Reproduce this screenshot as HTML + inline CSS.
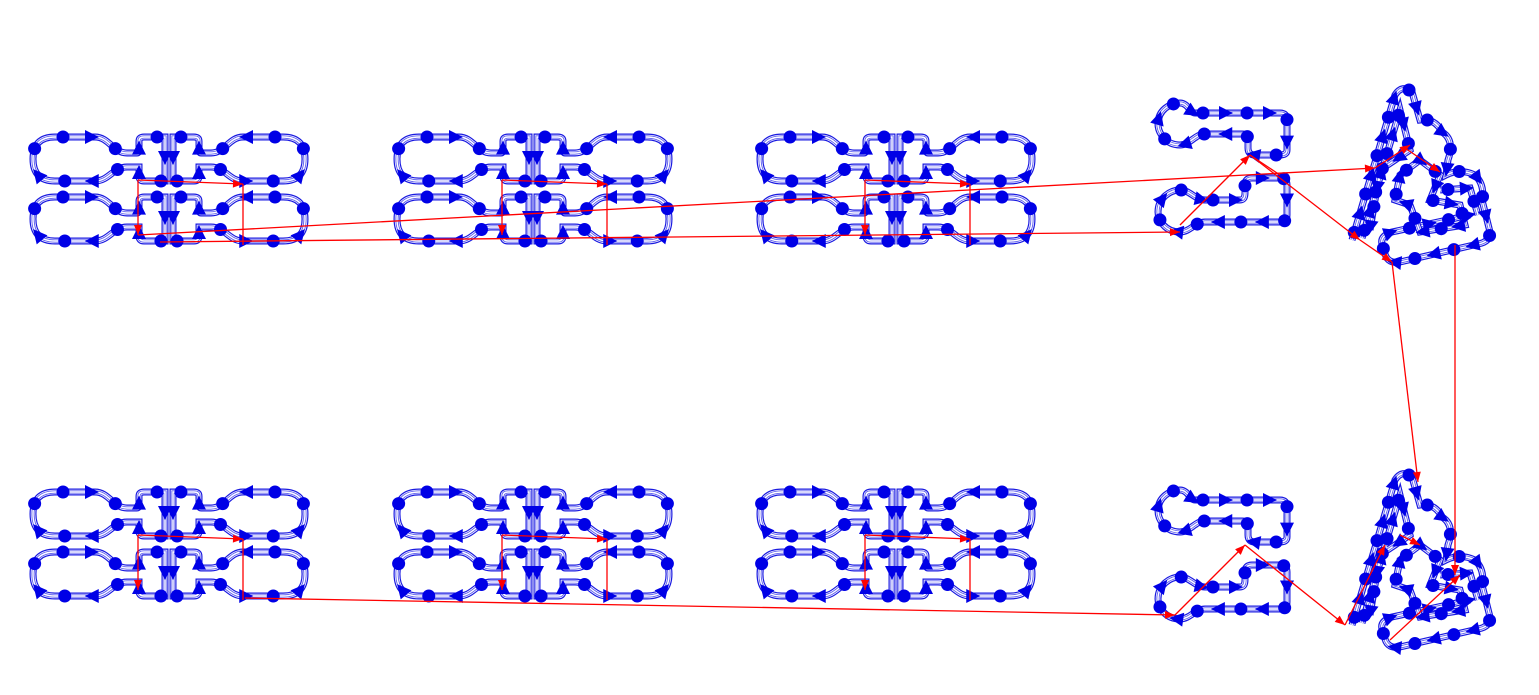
<!DOCTYPE html>
<html><head><meta charset="utf-8"><style>
html,body{margin:0;padding:0;background:#fff;width:1539px;height:695px;overflow:hidden}
svg{display:block}
</style></head><body>
<svg id="s" width="1539" height="695" viewBox="0 0 1539 695" xmlns="http://www.w3.org/2000/svg">
<g id="blue" fill="none"></g>
<g id="marks" fill="#0000e6"></g>
<g id="red" stroke="#f00" stroke-width="1.3" fill="#f00"></g>
</svg>
<script>
var NS="http://www.w3.org/2000/svg";
var blue=document.getElementById('blue'),marks=document.getElementById('marks'),red=document.getElementById('red');
function tri(d,paths){paths.forEach(function(p){
 [[7,'#1a1ae0'],[4.6,'#fff'],[3.2,'#6060f0'],[1.4,'#fff']].forEach(function(s){
  var e=document.createElementNS(NS,'path');e.setAttribute('d',p.d);if(p.t)e.setAttribute('transform',p.t);
  e.setAttribute('stroke',s[1]);e.setAttribute('stroke-width',s[0]);blue.appendChild(e);});
 var e=document.createElementNS(NS,'path');e.setAttribute('d',p.d);
 e.setAttribute('fill','none');blue.appendChild(e);
 var L=e.getTotalLength(),step=p.step||28,i=0;
 for(var l=8;l<L;l+=step,i++){
  var pt=e.getPointAtLength(l),pt2=e.getPointAtLength(Math.min(L,l+2));
  var x=pt.x,y=pt.y,x2=pt2.x,y2=pt2.y;
  if(p.tf){var r=p.tf(x,y);x=r[0];y=r[1];r=p.tf(x2,y2);x2=r[0];y2=r[1];}
  if(i%2==0){var c=document.createElementNS(NS,'circle');c.setAttribute('cx',x);c.setAttribute('cy',y);c.setAttribute('r',6.5);marks.appendChild(c);}
  else{var a=Math.atan2(y2-y,x2-x)*180/Math.PI;var g=document.createElementNS(NS,'polygon');
   g.setAttribute('points','8,0 -6,-7 -6,7');g.setAttribute('transform','translate('+x+','+y+') rotate('+a+')');marks.appendChild(g);}
 }
});}
var lobe="M22 2 H62 C76 2 80 18 94 18 H104 Q106 18 106 13 V6 Q106 2 111 2 H132 V46 H111 Q106 46 106 41 V32 H94 C80 32 76 46 62 46 H22 Q0 46 0 24 Q0 2 22 2 Z";
function block(x0,y0){
 [0,60].forEach(function(dy){
  var ox=x0,oy=y0+dy;
  tri(null,[{d:lobe,t:'translate('+ox+','+oy+')',tf:function(x,y){return[x+ox,y+oy]}},
   {d:lobe,t:'translate('+(ox+272)+','+oy+') scale(-1,1)',tf:function(x,y){return[ox+272-x,y+oy]}}]);
 });
}
[[33,135],[397,135],[760,135],[33,490],[397,490],[760,490]].forEach(function(b){block(b[0],b[1]);});
function sh(dy){return {t:'translate(0,'+dy+')',tf:function(x,y){return[x,y+dy]}};}
function mk(d,dy,step){var s=sh(dy);s.d=d;s.step=step;return s;}
function twoA(dy){
 tri(null,[mk("M1195 113 H1280 Q1287 113 1287 120 V150 Q1287 155 1280 155 H1255 Q1248 155 1248 148 V140 Q1248 134 1242 134 H1205 C1195 134 1190 145 1180 145 C1165 145 1158 132 1158 124 C1158 110 1170 103 1180 103 C1188 103 1190 113 1195 113 Z",dy,22),
 mk("M1205 200 H1240 Q1245 200 1245 193 V185 Q1245 178 1252 178 H1280 Q1287 178 1287 185 V215 Q1287 222 1280 222 H1205 C1195 222 1190 232 1180 232 C1165 232 1158 220 1158 212 C1158 198 1170 190 1180 190 C1190 190 1195 200 1205 200 Z",dy,22)]);
}
twoA(0);twoA(387);
function triA(dy){
 tri(null,[
 mk("M1352 240 L1395 95 Q1402 84 1412 92 L1420 120 Q1435 118 1442 132 Q1455 140 1448 160 L1446 175 Q1460 168 1475 175 Q1485 185 1482 200 L1490 232 Q1490 242 1478 244 L1400 262 Q1388 264 1385 254 L1382 244 Q1380 236 1392 232 L1470 215",dy,20),
 mk("M1362 238 L1400 110 L1410 150 L1380 170 L1370 230",dy,20),
 mk("M1400 175 L1420 160 L1440 175 L1430 200 L1460 205 L1465 225 L1420 232 L1410 205 L1395 200 Z",dy,18),
 mk("M1440 190 L1470 188 L1478 215",dy,18)]);
}
triA(0);triA(385);
function ln(x1,y1,x2,y2,arrow){var e=document.createElementNS(NS,'line');e.setAttribute('x1',x1);e.setAttribute('y1',y1);e.setAttribute('x2',x2);e.setAttribute('y2',y2);red.appendChild(e);
 if(arrow){var a=Math.atan2(y2-y1,x2-x1)*180/Math.PI;var g=document.createElementNS(NS,'polygon');g.setAttribute('points','0,0 -10,-4 -10,4');g.setAttribute('stroke','none');g.setAttribute('transform','translate('+x2+','+y2+') rotate('+a+')');red.appendChild(g);}}
[33,397,760].forEach(function(x){
 [135,490].forEach(function(y){
  ln(x+105,y+45,x+105,y+100,1);ln(x+105,y+45,x+210,y+49,1);ln(x+210,y+49,x+210,y+110,0);
 });
});
ln(138,235,1375,168,1);ln(160,242,1180,232,1);
ln(1180,225,1250,155,1);ln(1250,155,1280,175,0);ln(1250,155,1360,240,1);
ln(1360,240,1392,262,1);ln(1392,262,1418,482,1);ln(1455,245,1455,575,1);
ln(1375,168,1410,145,1);ln(1405,148,1440,172,1);
ln(245,598,1175,615,1);ln(1175,615,1245,545,1);ln(1245,545,1345,625,1);
ln(1345,625,1385,545,1);ln(1390,640,1460,575,1);ln(1400,535,1420,545,1);
</script>
</body></html>
